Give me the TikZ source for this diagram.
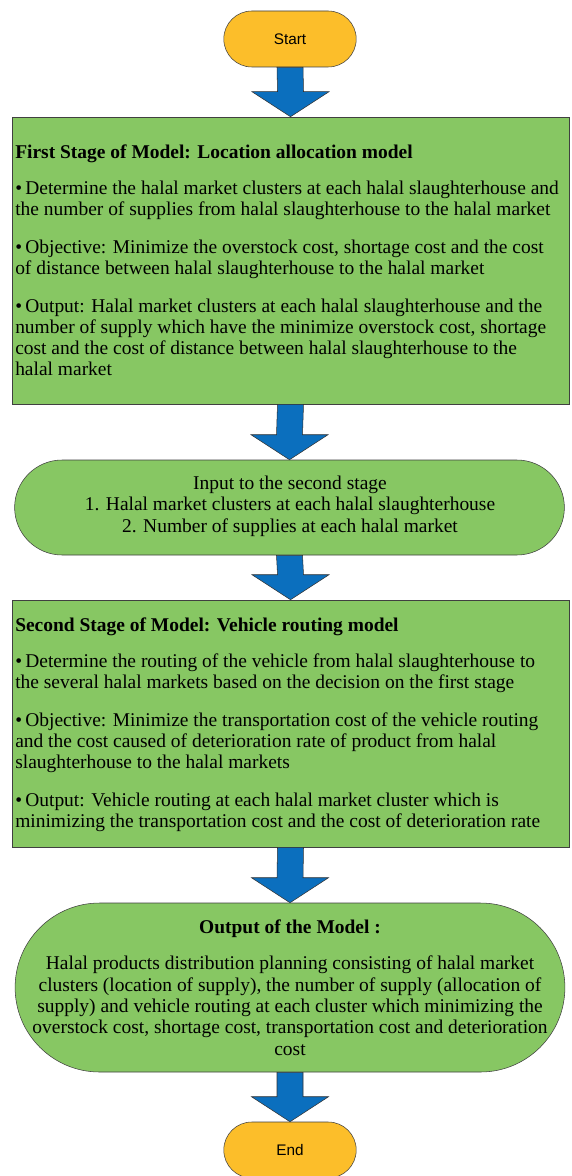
\documentclass[tikz,border=0pt]{standalone}
\usepackage{fontspec}
\setmainfont{Liberation Serif}
\newfontfamily\arialfont{Liberation Sans}
\usetikzlibrary{calc,shapes.misc}

\definecolor{boxgreen}{HTML}{87C763}
\definecolor{termorange}{HTML}{FCBE2A}
\definecolor{arrowblue}{HTML}{0B6FBE}

\begin{document}
\begin{tikzpicture}[
    x=0.75pt, y=-0.75pt,
    termbox/.style={rounded rectangle, draw=black!75, fill=termorange, minimum width=106pt, minimum height=42pt, font=\arialfont\fontsize{11.5}{13}\selectfont},
    stagebox/.style={rectangle, draw=black!75, fill=boxgreen, minimum width=417.75pt},
    pillbox/.style={rounded rectangle, draw=black!75, fill=boxgreen, minimum width=419pt},
    bodytext/.style={align=left, inner sep=0pt, font=\fontsize{14.6}{15.75}\selectfont},
    centertext/.style={align=center, inner sep=0pt, font=\fontsize{14.6}{16}\selectfont},
    bigarrow/.style={draw=black!80, fill=arrowblue, line join=miter}
]
\useasboundingbox (0,0) rectangle (571,1176);
\fill[white] (0,0) rectangle (571,1176);

% Terminals
\node[termbox] (start) at (290,39) {Start};
\node[termbox] (finish) at (290,1150) {End};

% First stage
\node[stagebox, minimum height=215.25pt] (stageone) at (290.5,260.5) {};
\node[bodytext, anchor=north west] (stageonetext) at (15,145) {%
\textbf{First Stage of Model: Location allocation model}\\[11pt]
\textbullet\,Determine the halal market clusters at each halal slaughterhouse and\\
the number of supplies from halal slaughterhouse to the halal market\\[12.75pt]
\textbullet\,Objective: Minimize the overstock cost, shortage cost and the cost\\
of distance between halal slaughterhouse to the halal market\\[12.75pt]
\textbullet\,Output: Halal market clusters at each halal slaughterhouse and the\\
number of supply which have the minimize overstock cost, shortage\\
cost and the cost of distance between halal slaughterhouse to the\\
halal market};

% Input to second stage
\node[pillbox, minimum height=71.25pt] (inputtwo) at (289.5,507.5) {};
\node[centertext] (inputtwotext) at (290,506) {Input to the second stage\\
1. Halal market clusters at each halal slaughterhouse\\
2. Number of supplies at each halal market};

% Second stage
\node[stagebox, minimum height=185.25pt] (stagetwo) at (290.5,723.5) {};
\node[bodytext, anchor=north west] (stagetwotext) at (15,618) {%
\textbf{Second Stage of Model: Vehicle routing model}\\[11pt]
\textbullet\,Determine the routing of the vehicle from halal slaughterhouse to\\
the several halal markets based on the decision on the first stage\\[12.75pt]
\textbullet\,Objective: Minimize the transportation cost of the vehicle routing\\
and the cost caused of deterioration rate of product from halal\\
slaughterhouse to the halal markets\\[12.75pt]
\textbullet\,Output: Vehicle routing at each halal market cluster which is\\
minimizing the transportation cost and the cost of deterioration rate};

% Output of the model
\node[pillbox, minimum height=126.75pt] (output) at (290,987.5) {};
\node[centertext, anchor=north] (outputtext) at (290,920) {%
\textbf{Output of the Model :}\\[11pt]
Halal products distribution planning consisting of halal market\\
clusters (location of supply), the number of supply (allocation of\\
supply) and vehicle routing at each cluster which minimizing the\\
overstock cost, shortage cost, transportation cost and deterioration\\
cost};

% Block arrows
\foreach \from/\to in {start/stageone,stageone/inputtwo,inputtwo/stagetwo,stagetwo/output,output/finish}
  \draw[bigarrow] ($(\from.south)+(-13,0)$) -- ($(\to.north)+(-13,-25)$) -- ($(\to.north)+(-38.5,-25)$)
    -- (\to.north) -- ($(\to.north)+(38.5,-25)$) -- ($(\to.north)+(13,-25)$) -- ($(\from.south)+(13,0)$) -- cycle;

\end{tikzpicture}
\end{document}
